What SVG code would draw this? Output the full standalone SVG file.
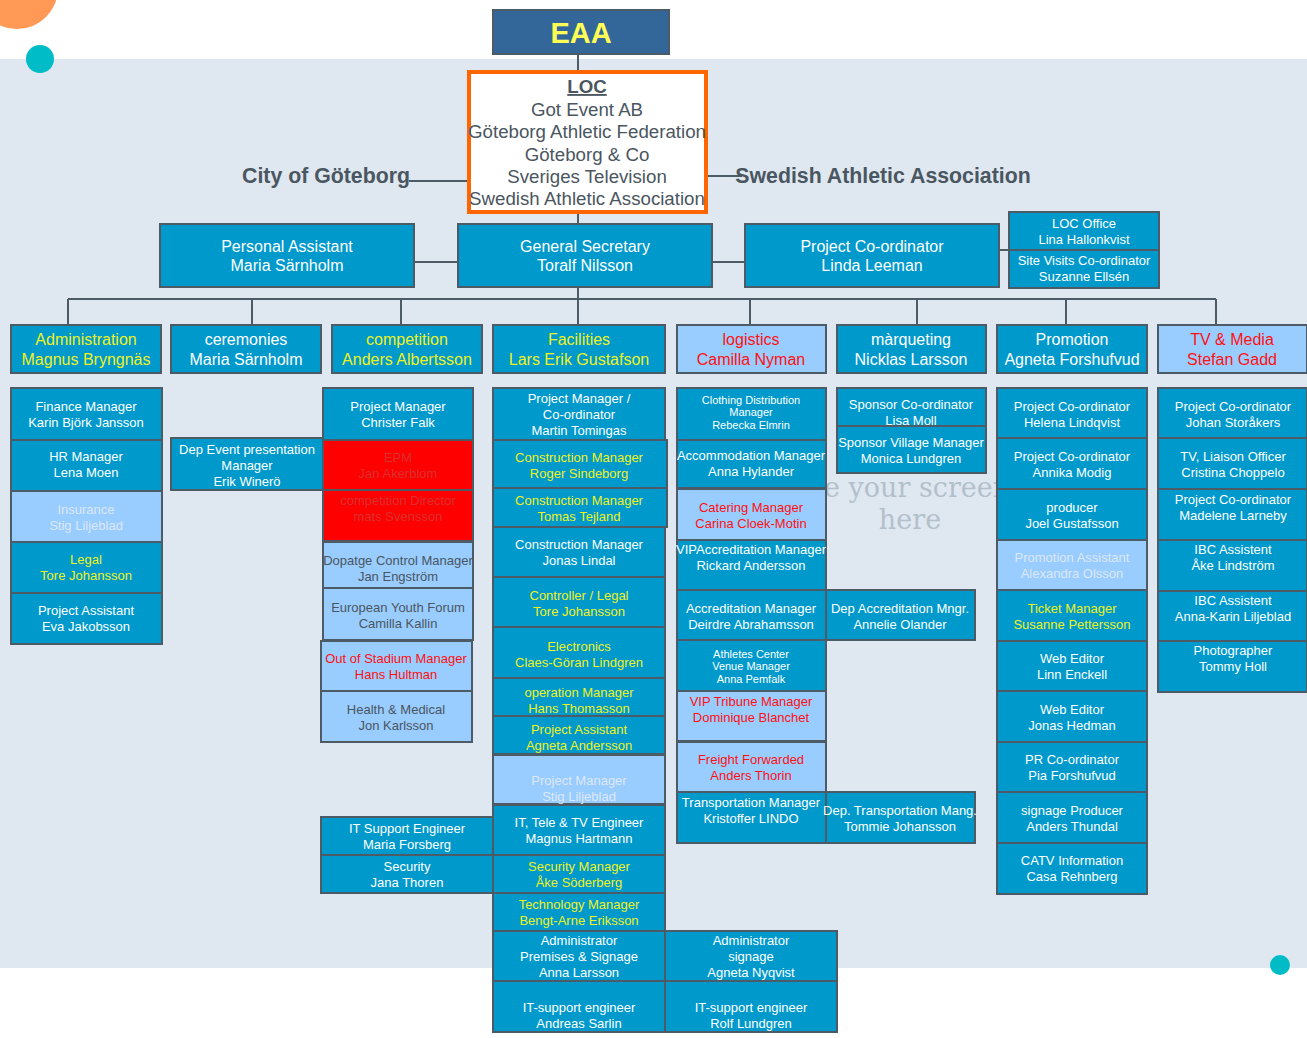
<svg xmlns="http://www.w3.org/2000/svg" width="1307" height="1038" viewBox="0 0 1307 1038">
<style>
text{font-family:"Liberation Sans",Arial,sans-serif;text-anchor:middle}
.b{fill:#0099cc;stroke:#4d5b66;stroke-width:2}
.lb{fill:#99ccff;stroke:#4d5b66;stroke-width:2}
.rd{fill:#ff0000;stroke:#4d5b66;stroke-width:2}
.s{font-size:13px}
.xs{font-size:11px}
.m{font-size:16px}
.w{fill:#ffffff}
.y{fill:#eef21e}
.f{fill:#dce8f6}
.d{fill:#4a5660}
.rt{fill:#ff1111}
.er{fill:#d93030}
.c{stroke:#4d5b66;stroke-width:2;fill:none}
.wm{font-family:"DejaVu Serif","Liberation Serif",serif;font-size:27px;fill:#b3c0cb}
</style>
<rect x="0" y="0" width="1307" height="1038" fill="#ffffff"/>
<rect x="0" y="59" width="1307" height="909" fill="#dfe8f1"/>
<circle cx="17" cy="-12" r="41" fill="#ff9955"/>
<circle cx="40" cy="59" r="14" fill="#00bcc6"/>
<circle cx="1280" cy="965" r="10" fill="#00bcc6"/>
<text x="924" y="497" class="wm">e your screens</text>
<text x="910" y="529" class="wm">here</text>

<g id="connectors">
<line class="c" x1="578" y1="54" x2="578" y2="72"/>
<line class="c" x1="578" y1="212" x2="578" y2="224"/>
<line class="c" x1="409" y1="181" x2="467" y2="181"/>
<line class="c" x1="708" y1="176" x2="742" y2="176"/>
<line class="c" x1="414" y1="262" x2="458" y2="262"/>
<line class="c" x1="712" y1="262" x2="745" y2="262"/>
<line class="c" x1="999" y1="250" x2="1009" y2="250"/>
<line class="c" x1="578" y1="287" x2="578" y2="299"/>
<line class="c" x1="68" y1="299" x2="1216" y2="299"/>
<line class="c" x1="68" y1="299" x2="68" y2="325"/>
<line class="c" x1="252" y1="299" x2="252" y2="325"/>
<line class="c" x1="401" y1="299" x2="401" y2="325"/>
<line class="c" x1="578" y1="299" x2="578" y2="325"/>
<line class="c" x1="750" y1="299" x2="750" y2="325"/>
<line class="c" x1="917" y1="299" x2="917" y2="325"/>
<line class="c" x1="1066" y1="299" x2="1066" y2="325"/>
<line class="c" x1="1216" y1="299" x2="1216" y2="325"/>
<line x1="596" y1="428" x2="596" y2="440" stroke="#4d5b66" stroke-width="1"/>
</g>

<g id="eaa"><rect x="493" y="10" width="176" height="44" fill="#336699" stroke="#4d5b66" stroke-width="2"/><text x="581" y="43" style="font-size:29px;font-weight:bold;fill:#ffff55">EAA</text></g>
<g id="loc"><rect x="469" y="72" width="237" height="140" fill="#ffffff" stroke="#ff6600" stroke-width="4"/>
<text class="d" style="font-size:18.7px"><tspan x="587" y="93" font-weight="bold" text-decoration="underline">LOC</tspan><tspan x="587" y="116">Got Event AB</tspan><tspan x="587" y="138">Göteborg Athletic Federation</tspan><tspan x="587" y="161">Göteborg &amp; Co</tspan><tspan x="587" y="183">Sveriges Television</tspan><tspan x="587" y="205">Swedish Athletic Association</tspan></text></g>
<g id="city"><text x="326" y="183" class="d" style="font-size:21.3px;font-weight:bold">City of Göteborg</text></g>
<g id="saa"><text x="883" y="183" class="d" style="font-size:21.3px;font-weight:bold">Swedish Athletic Association</text></g>

<g id="pa"><rect class="b" x="160" y="224" width="254" height="63"/><text class="m w"><tspan x="287" y="252">Personal Assistant</tspan><tspan x="287" y="271">Maria Särnholm</tspan></text></g>
<g id="gs"><rect class="b" x="458" y="224" width="254" height="63"/><text class="m w"><tspan x="585" y="252">General Secretary</tspan><tspan x="585" y="271">Toralf Nilsson</tspan></text></g>
<g id="pc"><rect class="b" x="745" y="224" width="254" height="63"/><text class="m w"><tspan x="872" y="252">Project Co-ordinator</tspan><tspan x="872" y="271">Linda Leeman</tspan></text></g>
<g id="loco"><rect class="b" x="1009" y="212" width="150" height="38"/><text class="s w"><tspan x="1084" y="228">LOC Office</tspan><tspan x="1084" y="244">Lina Hallonkvist</tspan></text></g>
<g id="svc"><rect class="b" x="1009" y="250" width="150" height="38"/><text class="s w"><tspan x="1084" y="265">Site Visits Co-ordinator</tspan><tspan x="1084" y="281">Suzanne Ellsén</tspan></text></g>

<g id="d-admin"><rect class="b" x="11" y="325" width="150" height="48"/><text class="m y"><tspan x="86" y="345">Administration</tspan><tspan x="86" y="365">Magnus Bryngnäs</tspan></text></g>
<g id="d-cer"><rect class="b" x="171" y="325" width="150" height="48"/><text class="m w"><tspan x="246" y="345">ceremonies</tspan><tspan x="246" y="365">Maria Särnholm</tspan></text></g>
<g id="d-comp"><rect class="b" x="332" y="325" width="150" height="48"/><text class="m y"><tspan x="407" y="345">competition</tspan><tspan x="407" y="365">Anders Albertsson</tspan></text></g>
<g id="d-fac"><rect class="b" x="493" y="325" width="172" height="48"/><text class="m y"><tspan x="579" y="345">Facilities</tspan><tspan x="579" y="365">Lars Erik Gustafson</tspan></text></g>
<g id="d-log"><rect class="lb" x="677" y="325" width="149" height="48"/><text class="m rt"><tspan x="751" y="345">logistics</tspan><tspan x="751" y="365">Camilla Nyman</tspan></text></g>
<g id="d-mar"><rect class="b" x="837" y="325" width="149" height="48"/><text class="m w"><tspan x="911" y="345">màrqueting</tspan><tspan x="911" y="365">Nicklas Larsson</tspan></text></g>
<g id="d-pro"><rect class="b" x="997" y="325" width="150" height="48"/><text class="m w"><tspan x="1072" y="345">Promotion</tspan><tspan x="1072" y="365">Agneta Forshufvud</tspan></text></g>
<g id="d-tv"><rect class="lb" x="1158" y="325" width="149" height="48"/><text class="m rt"><tspan x="1232" y="345">TV &amp; Media</tspan><tspan x="1232" y="365">Stefan Gadd</tspan></text></g>

<!-- Administration column -->
<g id="a1"><rect class="b" x="11" y="388" width="151" height="52"/><text class="s w"><tspan x="86" y="411">Finance Manager</tspan><tspan x="86" y="427">Karin Björk Jansson</tspan></text></g>
<g id="a2"><rect class="b" x="11" y="440" width="151" height="51"/><text class="s w"><tspan x="86" y="461">HR Manager</tspan><tspan x="86" y="477">Lena Moen</tspan></text></g>
<g id="a3"><rect class="lb" x="11" y="491" width="151" height="51"/><text class="s f"><tspan x="86" y="514">Insurance</tspan><tspan x="86" y="530">Stig Liljeblad</tspan></text></g>
<g id="a4"><rect class="b" x="11" y="542" width="151" height="51"/><text class="s y"><tspan x="86" y="564">Legal</tspan><tspan x="86" y="580">Tore Johansson</tspan></text></g>
<g id="a5"><rect class="b" x="11" y="593" width="151" height="51"/><text class="s w"><tspan x="86" y="615">Project Assistant</tspan><tspan x="86" y="631">Eva Jakobsson</tspan></text></g>

<!-- Ceremonies -->
<g id="c1"><rect class="b" x="171" y="438" width="152" height="52"/><text class="s w"><tspan x="247" y="454">Dep Event presentation</tspan><tspan x="247" y="470">Manager</tspan><tspan x="247" y="486">Erik Winerö</tspan></text></g>

<!-- Competition column -->
<g id="k1"><rect class="b" x="323" y="388" width="150" height="52"/><text class="s w"><tspan x="398" y="411">Project Manager</tspan><tspan x="398" y="427">Christer Falk</tspan></text></g>
<g id="k2"><rect class="rd" x="323" y="440" width="150" height="50"/><text class="s er"><tspan x="398" y="462">EPM</tspan><tspan x="398" y="478">Jan Akerblom</tspan></text></g>
<g id="k3"><rect class="rd" x="323" y="490" width="150" height="51"/><text class="s er"><tspan x="398" y="505">competition Director</tspan><tspan x="398" y="521">mats Svensson</tspan></text></g>
<g id="k4"><rect class="lb" x="323" y="542" width="150" height="46"/><text class="s d"><tspan x="398" y="565">Dopatge Control Manager</tspan><tspan x="398" y="581">Jan Engström</tspan></text></g>
<g id="k5"><rect class="lb" x="323" y="588" width="150" height="52"/><text class="s d"><tspan x="398" y="612">European Youth Forum</tspan><tspan x="398" y="628">Camilla Kallin</tspan></text></g>
<g id="k6"><rect class="lb" x="321" y="641" width="151" height="50"/><text class="s rt"><tspan x="396" y="663">Out of Stadium Manager</tspan><tspan x="396" y="679">Hans Hultman</tspan></text></g>
<g id="k7"><rect class="lb" x="321" y="691" width="151" height="51"/><text class="s d"><tspan x="396" y="714">Health &amp; Medical</tspan><tspan x="396" y="730">Jon Karlsson</tspan></text></g>

<!-- Facilities column -->
<g id="f1"><rect class="b" x="493" y="388" width="172" height="52"/><text class="s w"><tspan x="579" y="403">Project Manager /</tspan><tspan x="579" y="419">Co-ordinator</tspan><tspan x="579" y="435">Martin Tomingas</tspan></text></g>
<g id="f2"><rect class="b" x="493" y="440" width="174" height="48"/><text class="s y"><tspan x="579" y="462">Construction Manager</tspan><tspan x="579" y="478">Roger Sindeborg</tspan></text></g>
<g id="f3"><rect class="b" x="493" y="488" width="174" height="39"/><text class="s y"><tspan x="579" y="505">Construction Manager</tspan><tspan x="579" y="521">Tomas Tejland</tspan></text></g>
<g id="f4"><rect class="b" x="493" y="527" width="172" height="50"/><text class="s w"><tspan x="579" y="549">Construction Manager</tspan><tspan x="579" y="565">Jonas Lindal</tspan></text></g>
<g id="f5"><rect class="b" x="493" y="577" width="172" height="50"/><text class="s y"><tspan x="579" y="600">Controller / Legal</tspan><tspan x="579" y="616">Tore Johansson</tspan></text></g>
<g id="f6"><rect class="b" x="493" y="627" width="172" height="51"/><text class="s y"><tspan x="579" y="651">Electronics</tspan><tspan x="579" y="667">Claes-Göran Lindgren</tspan></text></g>
<g id="f7"><rect class="b" x="493" y="678" width="172" height="38"/><text class="s y"><tspan x="579" y="697">operation Manager</tspan><tspan x="579" y="713">Hans Thomasson</tspan></text></g>
<g id="f8"><rect class="b" x="493" y="716" width="172" height="38"/><text class="s y"><tspan x="579" y="734">Project Assistant</tspan><tspan x="579" y="750">Agneta Andersson</tspan></text></g>
<g id="f9"><rect class="lb" x="493" y="755" width="172" height="49"/><text class="s f"><tspan x="579" y="785">Project Manager</tspan><tspan x="579" y="801">Stig Liljeblad</tspan></text></g>
<g id="f10"><rect class="b" x="493" y="805" width="172" height="50"/><text class="s w"><tspan x="579" y="827">IT, Tele &amp; TV Engineer</tspan><tspan x="579" y="843">Magnus Hartmann</tspan></text></g>
<g id="f11"><rect class="b" x="493" y="855" width="172" height="38"/><text class="s y"><tspan x="579" y="871">Security Manager</tspan><tspan x="579" y="887">Åke Söderberg</tspan></text></g>
<g id="f12"><rect class="b" x="493" y="893" width="172" height="38"/><text class="s y"><tspan x="579" y="909">Technology Manager</tspan><tspan x="579" y="925">Bengt-Arne Eriksson</tspan></text></g>
<g id="f13"><rect class="b" x="493" y="931" width="172" height="50"/><text class="s w"><tspan x="579" y="945">Administrator</tspan><tspan x="579" y="961">Premises &amp; Signage</tspan><tspan x="579" y="977">Anna Larsson</tspan></text></g>
<g id="f14"><rect class="b" x="493" y="981" width="172" height="51"/><text class="s w"><tspan x="579" y="1012">IT-support engineer</tspan><tspan x="579" y="1028">Andreas Sarlin</tspan></text></g>
<g id="f15"><rect class="b" x="665" y="931" width="172" height="50"/><text class="s w"><tspan x="751" y="945">Administrator</tspan><tspan x="751" y="961">signage</tspan><tspan x="751" y="977">Agneta Nyqvist</tspan></text></g>
<g id="f16"><rect class="b" x="665" y="981" width="172" height="51"/><text class="s w"><tspan x="751" y="1012">IT-support engineer</tspan><tspan x="751" y="1028">Rolf Lundgren</tspan></text></g>
<g id="f17"><rect class="b" x="321" y="817" width="172" height="38"/><text class="s w"><tspan x="407" y="833">IT Support Engineer</tspan><tspan x="407" y="849">Maria Forsberg</tspan></text></g>
<g id="f18"><rect class="b" x="321" y="855" width="172" height="38"/><text class="s w"><tspan x="407" y="871">Security</tspan><tspan x="407" y="887">Jana Thoren</tspan></text></g>

<!-- Logistics column -->
<g id="l1"><rect class="b" x="677" y="388" width="149" height="52"/><text class="xs w"><tspan x="751" y="404">Clothing Distribution</tspan><tspan x="751" y="416">Manager</tspan><tspan x="751" y="429">Rebecka Elmrin</tspan></text></g>
<g id="l2"><rect class="b" x="677" y="440" width="149" height="48"/><text class="s w"><tspan x="751" y="460">Accommodation Manager</tspan><tspan x="751" y="476">Anna Hylander</tspan></text></g>
<g id="l3"><rect class="lb" x="677" y="489" width="149" height="51"/><text class="s rt"><tspan x="751" y="512">Catering Manager</tspan><tspan x="751" y="528">Carina Cloek-Motin</tspan></text></g>
<g id="l4"><rect class="b" x="677" y="540" width="149" height="50"/><text class="s w"><tspan x="751" y="554">VIPAccreditation Manager</tspan><tspan x="751" y="570">Rickard Andersson</tspan></text></g>
<g id="l5"><rect class="b" x="677" y="590" width="149" height="50"/><text class="s w"><tspan x="751" y="613">Accreditation Manager</tspan><tspan x="751" y="629">Deirdre Abrahamsson</tspan></text></g>
<g id="l6"><rect class="b" x="677" y="640" width="149" height="51"/><text class="xs w"><tspan x="751" y="658">Athletes Center</tspan><tspan x="751" y="670">Venue Manager</tspan><tspan x="751" y="683">Anna Pemfalk</tspan></text></g>
<g id="l7"><rect class="lb" x="677" y="691" width="149" height="50"/><text class="s rt"><tspan x="751" y="706">VIP Tribune Manager</tspan><tspan x="751" y="722">Dominique Blanchet</tspan></text></g>
<g id="l8"><rect class="lb" x="677" y="742" width="149" height="50"/><text class="s rt"><tspan x="751" y="764">Freight Forwarded</tspan><tspan x="751" y="780">Anders Thorin</tspan></text></g>
<g id="l9"><rect class="b" x="677" y="792" width="149" height="51"/><text class="s w"><tspan x="751" y="807">Transportation Manager</tspan><tspan x="751" y="823">Kristoffer LINDO</tspan></text></g>
<g id="l10"><rect class="b" x="826" y="590" width="149" height="50"/><text class="s w"><tspan x="900" y="613">Dep Accreditation Mngr.</tspan><tspan x="900" y="629">Annelie Olander</tspan></text></g>
<g id="l11"><rect class="b" x="826" y="792" width="149" height="51"/><text class="s w"><tspan x="900" y="815">Dep. Transportation Mang.</tspan><tspan x="900" y="831">Tommie Johansson</tspan></text></g>

<!-- Marketing column -->
<g id="m1"><rect class="b" x="837" y="388" width="149" height="38"/><text class="s w"><tspan x="911" y="409">Sponsor Co-ordinator</tspan><tspan x="911" y="425">Lisa Moll</tspan></text></g>
<g id="m2"><rect class="b" x="837" y="426" width="149" height="47"/><text class="s w"><tspan x="911" y="447">Sponsor Village Manager</tspan><tspan x="911" y="463">Monica Lundgren</tspan></text></g>

<!-- Promotion column -->
<g id="p1"><rect class="b" x="997" y="388" width="150" height="50"/><text class="s w"><tspan x="1072" y="411">Project Co-ordinator</tspan><tspan x="1072" y="427">Helena Lindqvist</tspan></text></g>
<g id="p2"><rect class="b" x="997" y="438" width="150" height="51"/><text class="s w"><tspan x="1072" y="461">Project Co-ordinator</tspan><tspan x="1072" y="477">Annika Modig</tspan></text></g>
<g id="p3"><rect class="b" x="997" y="489" width="150" height="51"/><text class="s w"><tspan x="1072" y="512">producer</tspan><tspan x="1072" y="528">Joel Gustafsson</tspan></text></g>
<g id="p4"><rect class="lb" x="997" y="540" width="150" height="50"/><text class="s f"><tspan x="1072" y="562">Promotion Assistant</tspan><tspan x="1072" y="578">Alexandra Olsson</tspan></text></g>
<g id="p5"><rect class="b" x="997" y="590" width="150" height="51"/><text class="s y"><tspan x="1072" y="613">Ticket Manager</tspan><tspan x="1072" y="629">Susanne Pettersson</tspan></text></g>
<g id="p6"><rect class="b" x="997" y="641" width="150" height="50"/><text class="s w"><tspan x="1072" y="663">Web Editor</tspan><tspan x="1072" y="679">Linn Enckell</tspan></text></g>
<g id="p7"><rect class="b" x="997" y="691" width="150" height="51"/><text class="s w"><tspan x="1072" y="714">Web Editor</tspan><tspan x="1072" y="730">Jonas Hedman</tspan></text></g>
<g id="p8"><rect class="b" x="997" y="742" width="150" height="50"/><text class="s w"><tspan x="1072" y="764">PR Co-ordinator</tspan><tspan x="1072" y="780">Pia Forshufvud</tspan></text></g>
<g id="p9"><rect class="b" x="997" y="792" width="150" height="51"/><text class="s w"><tspan x="1072" y="815">signage Producer</tspan><tspan x="1072" y="831">Anders Thundal</tspan></text></g>
<g id="p10"><rect class="b" x="997" y="843" width="150" height="51"/><text class="s w"><tspan x="1072" y="865">CATV Information</tspan><tspan x="1072" y="881">Casa Rehnberg</tspan></text></g>

<!-- TV column -->
<g id="t1"><rect class="b" x="1158" y="388" width="149" height="50"/><text class="s w"><tspan x="1233" y="411">Project Co-ordinator</tspan><tspan x="1233" y="427">Johan Storåkers</tspan></text></g>
<g id="t2"><rect class="b" x="1158" y="438" width="149" height="51"/><text class="s w"><tspan x="1233" y="461">TV, Liaison Officer</tspan><tspan x="1233" y="477">Cristina Choppelo</tspan></text></g>
<g id="t3"><rect class="b" x="1158" y="489" width="149" height="51"/><text class="s w"><tspan x="1233" y="504">Project Co-ordinator</tspan><tspan x="1233" y="520">Madelene Larneby</tspan></text></g>
<g id="t4"><rect class="b" x="1158" y="540" width="149" height="51"/><text class="s w"><tspan x="1233" y="554">IBC Assistent</tspan><tspan x="1233" y="570">Åke Lindström</tspan></text></g>
<g id="t5"><rect class="b" x="1158" y="591" width="149" height="50"/><text class="s w"><tspan x="1233" y="605">IBC Assistent</tspan><tspan x="1233" y="621">Anna-Karin Liljeblad</tspan></text></g>
<g id="t6"><rect class="b" x="1158" y="641" width="149" height="51"/><text class="s w"><tspan x="1233" y="655">Photographer</tspan><tspan x="1233" y="671">Tommy Holl</tspan></text></g>
</svg>
